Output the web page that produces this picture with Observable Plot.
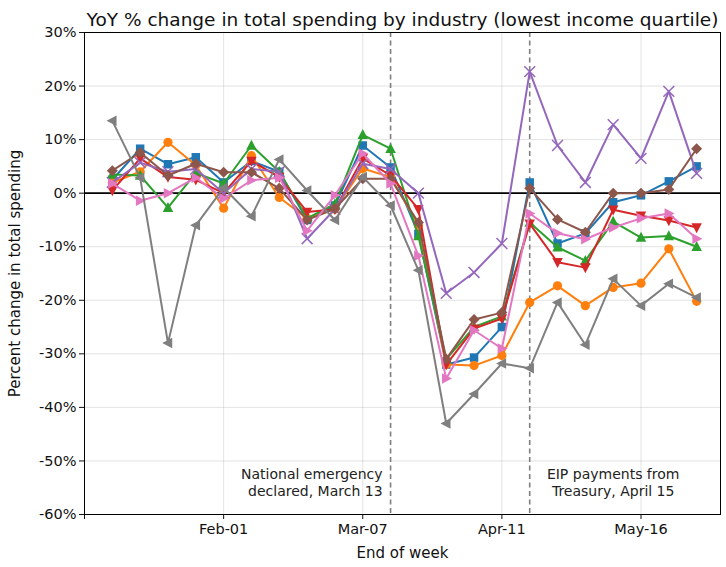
<!DOCTYPE html>
<html><head><meta charset="utf-8">
<script src="https://cdn.jsdelivr.net/npm/d3@7"></script>
<script src="https://cdn.jsdelivr.net/npm/@observablehq/plot@0.6"></script>
<style>body{margin:0;background:#fff;font-family:"DejaVu Sans",sans-serif;}</style>
</head><body><div id="chart"></div>
<script>
const weeks = ["2020-01-04","2020-01-11","2020-01-18","2020-01-25","2020-02-01","2020-02-08","2020-02-15","2020-02-22","2020-02-29","2020-03-07","2020-03-14","2020-03-21","2020-03-28","2020-04-04","2020-04-11","2020-04-18","2020-04-25","2020-05-02","2020-05-09","2020-05-16","2020-05-23","2020-05-30"];
const blue   = [2.5, 8.3, 5.4, 6.7, 2, 6, 4, -5, -2.3, 8.9, 4.8, -7.6, -32, -30.7, -25, 2, -9.4, -7.5, -1.7, -0.4, 2.2, 5];
const orange = [2, 4, 9.5, 5.2, -2.8, 7, -0.8, -4.7, -3, 4.6, 3, -6, -32, -32.2, -30.3, -20.4, -17.3, -21, -17.6, -16.8, -10.4, -20.2];
const green  = [3.5, 3.3, -2.7, 3.8, 1.8, 8.9, 4, -4.7, -2, 10.9, 8.3, -8, -31, -25, -23, -5.5, -10.1, -12.6, -5.3, -8.3, -8, -10];
const red    = [0.5, 6.5, 3, 2.5, 0, 6, 3, -3.5, -3, 6.5, 3.3, -3, -32, -25.3, -23.4, -5.7, -12.9, -13.9, -3.1, -4.2, -5.1, -6.4];
const purple = [2, 5.7, 4, 4.5, 0, 4.5, 4, -8.5, -3, 5.5, 4.5, 0, -18.7, -14.8, -9.4, 22.7, 8.9, 2, 12.8, 6.5, 19, 3.7];
const brown  = [4.2, 7.6, 3.3, 5.5, 3.9, 3.9, 0.9, -5, -2.9, 2.7, 2.7, -5.5, -31, -23.6, -22.3, 0.9, -4.9, -7.3, 0, 0, 0.7, 8.3];
const pink   = [1.8, -1.4, 0, 2.9, -1, 2.4, 2.9, -7, -0.4, 7.4, 1.8, -11.7, -34.6, -25.6, -29, -3.8, -7.5, -8.6, -6.4, -4.7, -3.8, -8.5];
const grey   = [13.5, 2.9, -28, -6, 1, -4.3, 6.3, 0.5, -5, 3, -2.3, -14.4, -43, -37.5, -31.8, -32.7, -20.4, -28.3, -16, -21, -16.9, -19.5];
const xTicks = ["2019-12-28","2020-02-01","2020-03-07","2020-04-11","2020-05-16"];
const xTickLabels = ["", "Feb-01", "Mar-07", "Apr-11", "May-16"];
const yTicks = [30, 20, 10, 0, -10, -20, -30, -40, -50, -60];
const events = ["2020-03-14", "2020-04-18"];
const eventLabels = ["National emergency\ndeclared, March 13", "EIP payments from\nTreasury, April 15"];
const title = "YoY % change in total spending by industry (lowest income quartile)";
const xLabel = "End of week";
const yLabel = "Percent change in total spending";

const parse = d3.utcParse("%Y-%m-%d");
const D = weeks.map(parse);

// custom marker shapes
function poly(pts) {
  return {draw(ctx, size) {
    const r = Math.sqrt(size / Math.PI);
    pts.forEach(([a, b], i) => i ? ctx.lineTo(a * r, b * r) : ctx.moveTo(a * r, b * r));
    ctx.closePath();
  }};
}
const sq = poly([[-0.85,-0.85],[0.85,-0.85],[0.85,0.85],[-0.85,0.85]]);
const diamond = poly([[0,-1.1],[1.1,0],[0,1.1],[-1.1,0]]);
const triUp = poly([[0,-1.15],[1.05,0.85],[-1.05,0.85]]);
const triDown = poly([[0,1.15],[1.05,-0.85],[-1.05,-0.85]]);
const triLeft = poly([[-1.15,0],[0.85,-1.05],[0.85,1.05]]);
const triRight = poly([[1.15,0],[-0.85,-1.05],[-0.85,1.05]]);

const series = [
  {vals: blue, color: "#1f77b4", sym: sq},
  {vals: orange, color: "#ff7f0e", sym: "circle"},
  {vals: green, color: "#2ca02c", sym: triUp},
  {vals: red, color: "#d62728", sym: triDown},
  {vals: purple, color: "#9467bd", sym: "times"},
  {vals: brown, color: "#8c564b", sym: diamond},
  {vals: pink, color: "#e377c2", sym: triRight},
  {vals: grey, color: "#7f7f7f", sym: triLeft}
];

const marks = [
  Plot.gridY(yTicks, {stroke: "#b0b0b0", strokeOpacity: 0.45, strokeWidth: 0.8}),
  Plot.gridX(xTicks.map(parse), {stroke: "#b0b0b0", strokeOpacity: 0.45, strokeWidth: 0.8}),
  Plot.ruleY([0], {stroke: "black", strokeWidth: 1.8}),
  Plot.ruleX(events.map(parse), {stroke: "#7f7f7f", strokeWidth: 1.6, strokeDasharray: "5,3.5"}),
  Plot.text([eventLabels[0]], {x: parse(events[0]), y: -54, dx: -8, textAnchor: "end", lineAnchor: "middle", fontSize: 14, fill: "#222", lineHeight: 1.15}),
  Plot.text([eventLabels[1]], {x: parse("2020-05-09"), y: -54, dx: 0, textAnchor: "middle", lineAnchor: "middle", fontSize: 14, fill: "#222", lineHeight: 1.15})
];
for (const s of series) {
  const data = D.map((d, i) => ({d, v: s.vals[i]}));
  marks.push(Plot.line(data, {x: "d", y: "v", stroke: s.color, strokeWidth: 2}));
  if (s.sym === "times") {
    marks.push(Plot.dot(data, {x: "d", y: "v", symbol: "times", stroke: s.color, strokeWidth: 1.5, r: 5}));
  } else if (s.sym === "circle") {
    marks.push(Plot.dot(data, {x: "d", y: "v", symbol: "circle", fill: s.color, stroke: "none", r: 4.6}));
  } else {
    marks.push(Plot.dot(data, {x: "d", y: "v", symbol: s.sym, fill: s.color, stroke: "none", r: 5}));
  }
}
marks.push(Plot.frame({stroke: "black", strokeWidth: 1}));
marks.push(Plot.axisX(xTicks.map(parse), {tickFormat: (d, i) => xTickLabels[i], tickSize: 5, fontSize: 14.5, tickPadding: 4, label: null}));
marks.push(Plot.axisY(yTicks, {tickFormat: d => d + "%", tickSize: 5, fontSize: 14.5, tickPadding: 3, label: null}));
marks.push(Plot.text([xLabel], {frameAnchor: "bottom", dy: 43, fontSize: 15, fill: "#111"}));
marks.push(Plot.text([yLabel], {frameAnchor: "left", dx: -69, rotate: -90, textAnchor: "middle", fontSize: 15, fill: "#111"}));
marks.push(Plot.text([title], {frameAnchor: "top", dy: -20, fontSize: 18.5, fill: "#111"}));

const chart = Plot.plot({
  width: 726, height: 567,
  marginLeft: 84, marginRight: 6, marginTop: 32, marginBottom: 53,
  style: {fontFamily: "DejaVu Sans, sans-serif", fontSize: "14px", color: "#111"},
  x: {type: "utc", domain: [parse("2019-12-28"), parse("2020-06-05")]},
  y: {domain: [-60, 30]},
  marks
});
document.getElementById("chart").appendChild(chart);
</script></body></html>
